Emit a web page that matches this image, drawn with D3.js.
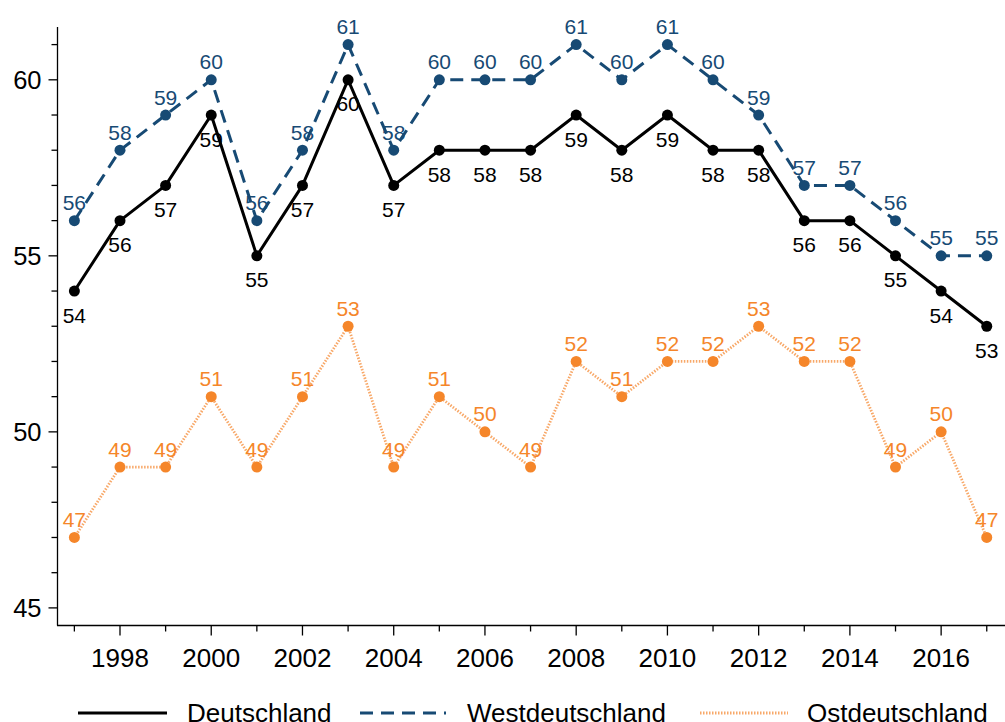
<!DOCTYPE html>
<html><head><meta charset="utf-8">
<script src="https://cdn.jsdelivr.net/npm/d3@7"></script>
<style>body{margin:0;background:#fff}svg{display:block;font-family:"Liberation Sans",Arial,sans-serif}</style>
</head><body><svg id="c" width="1005" height="722"></svg>
<script>
const years = d3.range(1997, 2018);
const deutschland = [54,56,57,59,55,57,60,57,58,58,58,59,58,59,58,58,56,56,55,54,53];
const westdeutschland = [56,58,59,60,56,58,61,58,60,60,60,61,60,61,60,59,57,57,56,55,55];
const ostdeutschland = [47,49,49,51,49,51,53,49,51,50,49,52,51,52,52,53,52,52,49,50,47];
const yTicks = [45,50,55,60];
const xTicks = [1998,2000,2002,2004,2006,2008,2010,2012,2014,2016];
const seriesNames = ["Deutschland","Westdeutschland","Ostdeutschland"];

const svg = d3.select("#c");
const x = d3.scaleLinear().domain([1996.63, 2017.4]).range([57.5, 1005]);
const y = d3.scaleLinear().domain([44.5, 61.5]).range([625.5, 27]);

const series = [
  {name: seriesNames[1], values: westdeutschland, color: "#174a74", dash: "13,8", width: 3, lineColor: "#174a74", pos: "above"},
  {name: seriesNames[0], values: deutschland, color: "#000", dash: null, width: 3, lineColor: "#000", pos: "below"},
  {name: seriesNames[2], values: ostdeutschland, color: "#f5862a", dash: "1.5,1.5", width: 2.8, lineColor: "#f8a868", pos: "above"}
];

// axes
const yAxis = svg.append("g").attr("transform", "translate(57.5,0)");
yAxis.append("line").attr("y1", y(61.5)).attr("y2", y(44.5)).attr("stroke", "#000").attr("stroke-width", 1.3);
d3.range(45, 62).forEach(v => {
  const major = yTicks.includes(v);
  yAxis.append("line").attr("x1", major ? -9 : -6).attr("x2", 0)
    .attr("y1", y(v)).attr("y2", y(v)).attr("stroke", "#000").attr("stroke-width", 1.3);
});
yTicks.forEach(v => {
  yAxis.append("text").attr("x", -16).attr("y", y(v)).attr("dy", "0.36em")
    .attr("text-anchor", "end").attr("font-size", 25.5).text(v);
});

const xAxis = svg.append("g").attr("transform", `translate(0,${y(44.5)})`);
xAxis.append("line").attr("x1", 57).attr("x2", 1005).attr("stroke", "#000").attr("stroke-width", 1.3);
years.forEach(v => {
  const major = xTicks.includes(v);
  xAxis.append("line").attr("x1", x(v)).attr("x2", x(v)).attr("y1", 0).attr("y2", major ? 10 : 6)
    .attr("stroke", "#000").attr("stroke-width", 1.3);
});
xTicks.forEach(v => {
  xAxis.append("text").attr("x", x(v)).attr("y", 41.5).attr("text-anchor", "middle")
    .attr("font-size", 26).text(v);
});

const line = d3.line().x((d, i) => x(years[i])).y(d => y(d));

series.forEach(s => {
  svg.append("path").datum(s.values).attr("d", line).attr("fill", "none")
    .attr("stroke", s.lineColor).attr("stroke-width", s.width)
    .attr("stroke-dasharray", s.dash).attr("stroke-linejoin", "round");
});
series.forEach(s => {
  svg.append("g").selectAll("circle").data(s.values).join("circle")
    .attr("cx", (d, i) => x(years[i])).attr("cy", d => y(d)).attr("r", 5.5).attr("fill", s.color);
});
series.forEach(s => {
  svg.append("g").selectAll("text").data(s.values).join("text")
    .attr("x", (d, i) => x(years[i]))
    .attr("y", d => s.pos === "above" ? y(d) - 10.5 : y(d) + 31.5)
    .attr("text-anchor", "middle").attr("font-size", 21).attr("fill", s.color).text(d => d);
});

// legend: Deutschland, Westdeutschland, Ostdeutschland
const legendPos = [
  {x1: 78, x2: 167, tx: 187},
  {x1: 360, x2: 446, tx: 467},
  {x1: 700, x2: 788, tx: 807}
];
const lgY = 713;
seriesNames.forEach((name, k) => {
  const s = series.find(d => d.name === name);
  const l = legendPos[k];
  svg.append("line").attr("x1", l.x1).attr("x2", l.x2).attr("y1", lgY).attr("y2", lgY)
    .attr("stroke", s.lineColor).attr("stroke-width", s.width).attr("stroke-dasharray", s.dash);
  svg.append("text").attr("x", l.tx).attr("y", lgY).attr("dy", "0.36em")
    .attr("font-size", 26).text(name);
});
</script></body></html>
